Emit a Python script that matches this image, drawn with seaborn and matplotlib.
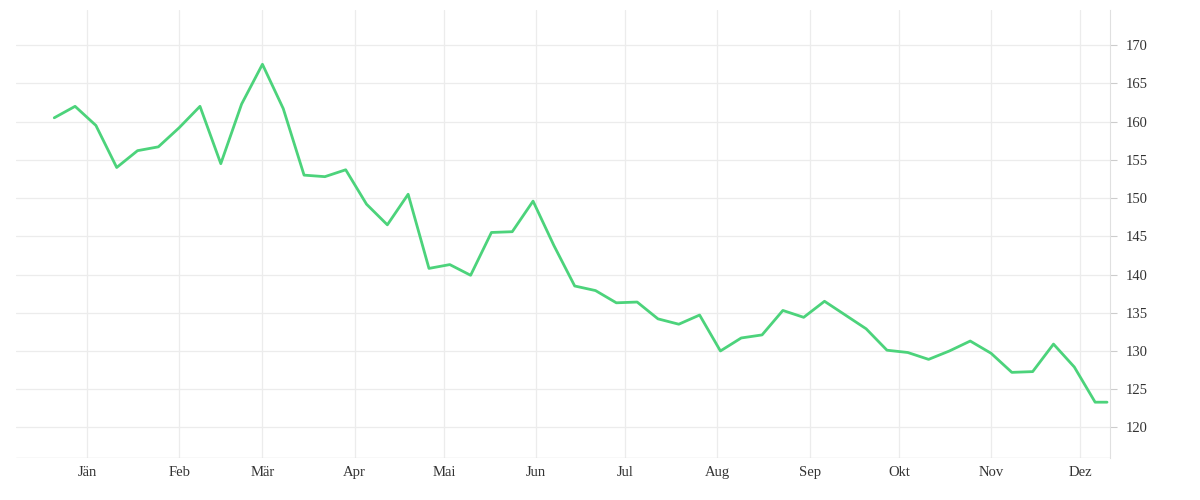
import matplotlib
matplotlib.use("Agg")
import matplotlib.pyplot as plt
import matplotlib.dates as mdates
import seaborn as sns
import pandas as pd

values = [160.5, 162, 159.5, 154, 156.2, 156.7, 159.2, 162, 154.5, 162.3, 167.5, 161.7,
          153, 152.8, 153.7, 149.2, 146.5, 150.5, 140.8, 141.3, 139.9, 145.5, 145.6, 149.6,
          143.8, 138.5, 137.9, 136.3, 136.4, 134.2, 133.5, 134.7, 130, 131.7, 132.1, 135.3,
          134.4, 136.5, 134.7, 132.9, 130.1, 129.8, 128.9, 130, 131.3, 129.7, 127.2, 127.3,
          130.9, 127.9, 123.3]
dates = list(pd.date_range("2022-12-21", periods=len(values), freq="7D")) + [pd.Timestamp("2023-12-10")]
values = values + [123.3]
month_labels = ["Jän", "Feb", "Mär", "Apr", "Mai", "Jun", "Jul", "Aug", "Sep", "Okt", "Nov", "Dez"]
month_ticks = pd.date_range("2023-01-01", periods=12, freq="MS")
yticks = [120, 125, 130, 135, 140, 145, 150, 155, 160, 165, 170]

sns.set_style("white")
plt.rcParams['font.family'] = ['Liberation Serif', 'DejaVu Serif']
df = pd.DataFrame({"date": dates, "value": values})

fig = plt.figure(figsize=(12, 5), dpi=100)
ax = fig.add_axes([0.013, 0.084, 0.912, 0.896])
sns.lineplot(data=df, x="date", y="value", ax=ax, color="#4cd37b", linewidth=2.0)
ax.set_xlim(pd.Timestamp("2022-12-08"), pd.Timestamp("2023-12-11"))
ax.set_ylim(116.0, 174.6)
ax.set_xticks(month_ticks)
ax.set_xticklabels(month_labels)
ax.set_yticks(yticks)
ax.yaxis.tick_right()
ax.grid(True, color="#ececec", linewidth=0.9)
for s in ["top", "left", "bottom"]:
    ax.spines[s].set_visible(False)
ax.spines["right"].set_color("#e0e0e0")
ax.axhline(116.0, color="#e0e0e0", linewidth=1)
ax.tick_params(axis="y", length=5, color="#cccccc", labelsize=10.5, labelcolor="#333333", pad=6)
ax.tick_params(axis="x", length=0, labelsize=10.5, labelcolor="#333333", pad=6)
ax.set_xlabel("")
ax.set_ylabel("")
fig.savefig("out.png")
